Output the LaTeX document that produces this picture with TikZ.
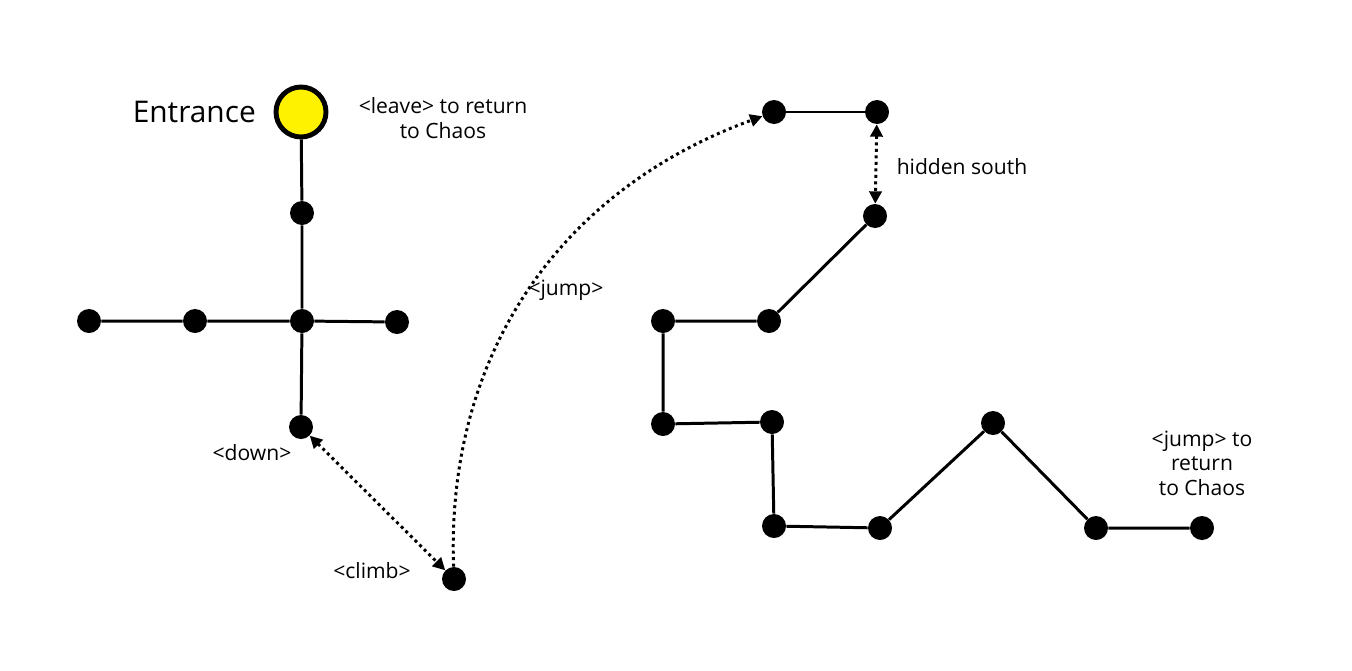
\documentclass[tikz,border=0pt]{standalone}
\usepackage{fontspec}
\setmainfont{Open Sans}
\usetikzlibrary{arrows.meta}
\begin{document}
\begin{tikzpicture}[x=0.02cm,y=-0.02cm,
    dot/.style={circle,fill=black,inner sep=0pt,minimum size=0.48cm},
    path/.style={line width=1.7pt},
    link/.style={line width=1.7pt,dotted,-{Triangle[length=7pt,width=7pt]}},
    lbl/.style={font=\fontsize{12}{14}\selectfont,align=center}]
    \useasboundingbox (0,0) rectangle (1352,670);

    % left part
    \node[circle,fill=yellow,draw=black,line width=2.8pt,minimum size=1.0cm,inner sep=0pt] (entr) at (301,112) {};
    \node[dot] (a1) at (302,213) {};
    \node[dot] (cen) at (302,321) {};
    \node[dot] (w2) at (89,321) {};
    \node[dot] (w1) at (195,321) {};
    \node[dot] (e1) at (397,322) {};
    \node[dot] (down) at (301,427) {};
    \node[dot] (climb) at (454,579) {};

    \draw[path] (entr) -- (a1) -- (cen) -- (down);
    \draw[path] (w2) -- (w1) -- (cen) -- (e1);

    % right part
    \node[dot] (t1) at (774,112) {};
    \node[dot] (t2) at (877,112) {};
    \node[dot] (hid) at (875,216) {};
    \node[dot] (m1) at (769,321) {};
    \node[dot] (m2) at (663,321) {};
    \node[dot] (m3) at (663,424) {};
    \node[dot] (m4) at (772,422) {};
    \node[dot] (m5) at (774,526) {};
    \node[dot] (m6) at (880,528) {};
    \node[dot] (peak) at (993,423) {};
    \node[dot] (m7) at (1096,528) {};
    \node[dot] (fin) at (1202,528) {};

    \draw[path] (t1) -- (t2);
    \draw[path] (hid) -- (m1) -- (m2) -- (m3) -- (m4) -- (m5) -- (m6) -- (peak) -- (m7) -- (fin);

    % links
    \draw[link,{Triangle[length=7pt,width=7pt]}-{Triangle[length=7pt,width=7pt]}] (down) -- (climb);
    \draw[link,{Triangle[length=7pt,width=7pt]}-{Triangle[length=7pt,width=7pt]}] (t2) -- (hid);
    \draw[link] (climb) to[out=92,in=200] (t1);

    % labels
    \node[font=\fontsize{17}{20}\selectfont,anchor=east] (entrlbl) at (262,112) {Entrance};
    \node[lbl] (leave) at (443,118) {<leave> to return\\to Chaos};
    \node[lbl] (downlbl) at (252,453) {<down>};
    \node[lbl] (climblbl) at (372,571) {<climb>};
    \node[lbl] (jumplbl) at (566,290) {<jump>};
    \node[lbl] (hidlbl) at (962,167) {hidden south};
    \node[lbl] (finlbl) at (1202,463) {<jump> to\\return\\to Chaos};
\end{tikzpicture}
\end{document}
